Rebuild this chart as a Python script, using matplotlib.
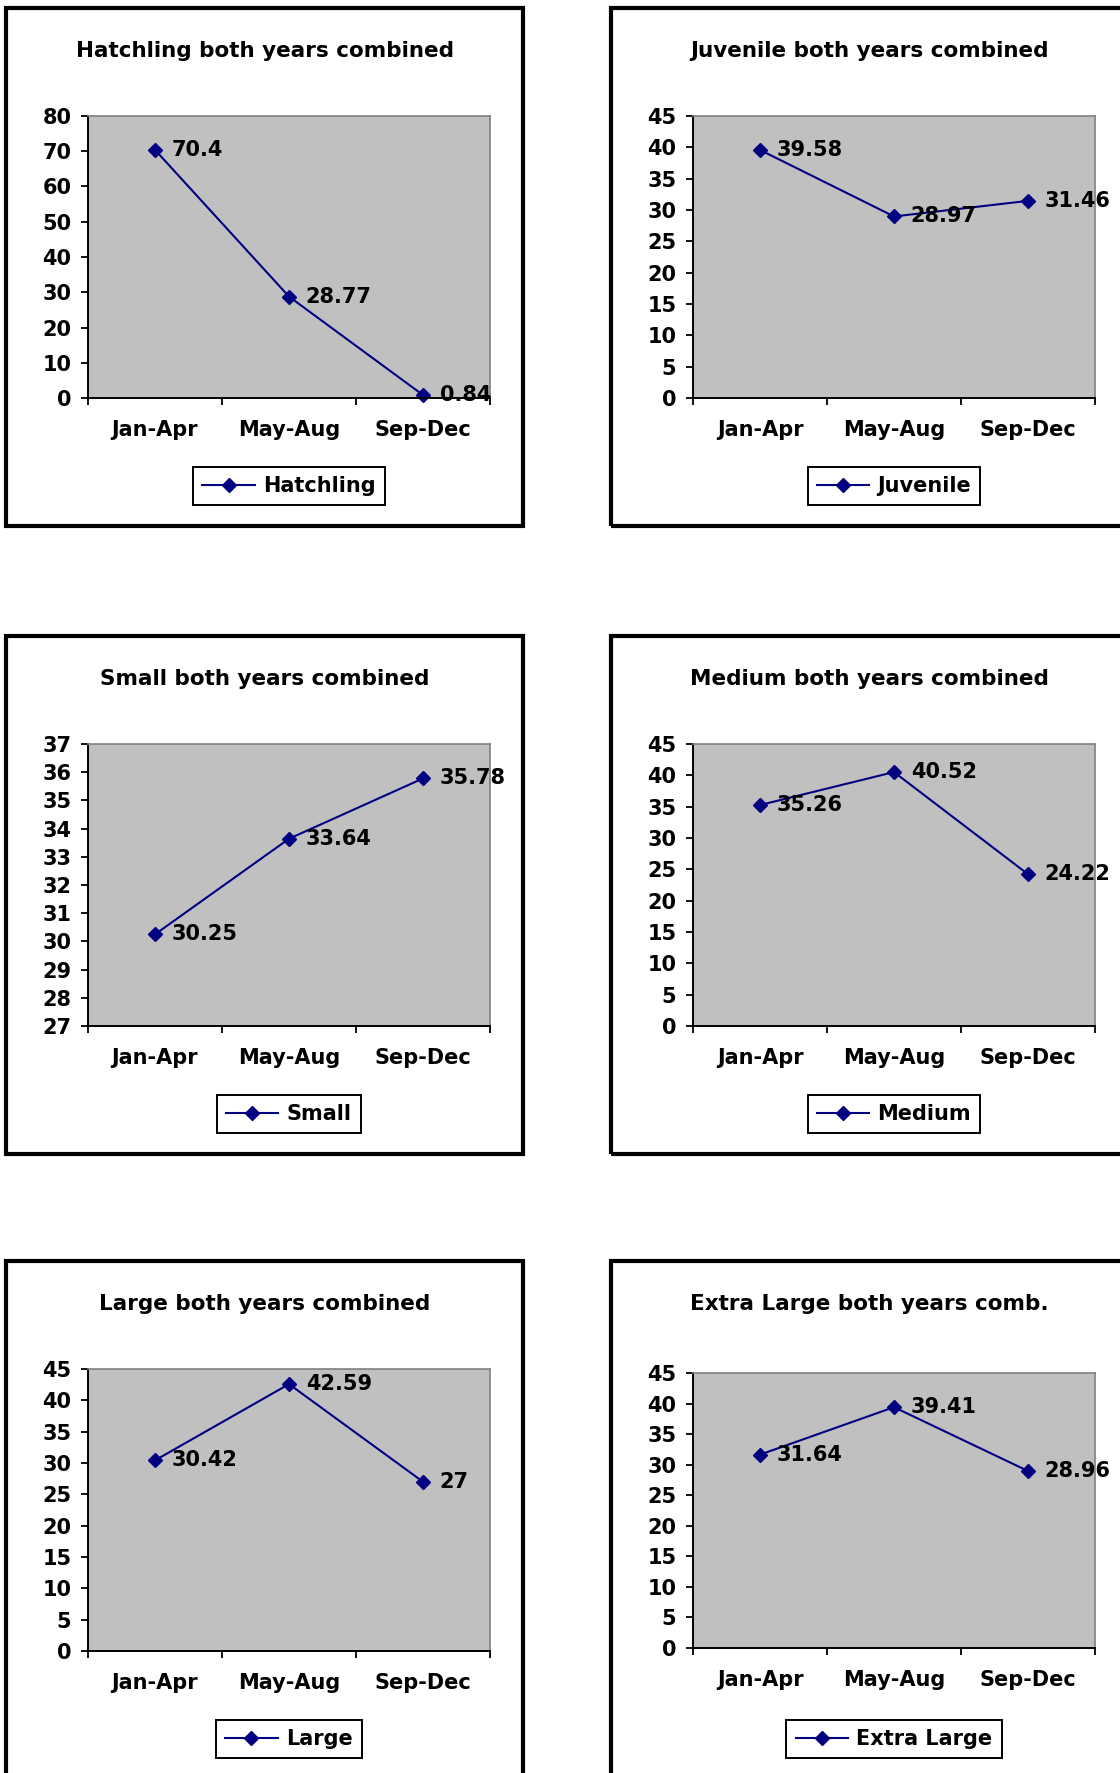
import matplotlib.pyplot as plt
from matplotlib.patches import Rectangle

categories = ["Jan-Apr", "May-Aug", "Sep-Dec"]

hatchling = [70.4, 28.77, 0.84]
juvenile = [39.58, 28.97, 31.46]
small = [30.25, 33.64, 35.78]
medium = [35.26, 40.52, 24.22]
large = [30.42, 42.59, 27]
extra_large = [31.64, 39.41, 28.96]

series_names = ["Hatchling", "Juvenile", "Small", "Medium", "Large", "Extra Large"]
titles = ["Hatchling both years combined", "Juvenile both years combined",
          "Small both years combined", "Medium both years combined",
          "Large both years combined", "Extra Large both years comb."]
y_ranges = [(0, 80, 10), (0, 45, 5), (27, 37, 1), (0, 45, 5), (0, 45, 5), (0, 45, 5)]
series_values = [hatchling, juvenile, small, medium, large, extra_large]

W, H = 1120, 1773
plt.rcParams['font.family'] = ['DejaVu Sans']
plt.rcParams['font.weight'] = 'bold'

fig = plt.figure(figsize=(W / 100, H / 100), dpi=100)
fig.patch.set_facecolor('white')

# panel top-left corners in pixels
col_x = [6, 611]
row_y = [8, 636, 1261]
panel_w, panel_h = 517, 518

navy = '#000080'
fs = 15

for i, (name, title, vals, yr) in enumerate(zip(series_names, titles, series_values, y_ranges)):
    px = col_x[i % 2]
    py = row_y[i // 2]

    # outer black frame
    fig.patches.append(Rectangle((px / W, 1 - (py + panel_h) / H), panel_w / W, panel_h / H,
                                 transform=fig.transFigure, fill=False, edgecolor='black',
                                 linewidth=3.0, clip_on=False))

    fig.text((px + panel_w / 2) / W, 1 - (py + 43) / H, title, ha='center', va='center',
             fontsize=15.5, fontweight='bold')

    ax_l = px + 82
    ax_t = py + 108
    ax_w, ax_h = 402, 282
    if i == 5:
        ax_t, ax_h = py + 112, 275
    ax = fig.add_axes([ax_l / W, 1 - (ax_t + ax_h) / H, ax_w / W, ax_h / H])
    ax.set_facecolor('#C0C0C0')

    x = list(range(len(categories)))
    ax.plot(x, vals, color=navy, linewidth=1.5, marker='D', markersize=7.5,
            markerfacecolor=navy, markeredgecolor=navy, label=name, clip_on=False)
    for xi, v in zip(x, vals):
        ax.annotate(f"{v:g}", (xi, v), xytext=(12, 0), textcoords='offset points',
                    ha='left', va='center', fontsize=fs, fontweight='bold',
                    annotation_clip=False)

    ymin, ymax, step = yr
    ax.set_ylim(ymin, ymax)
    ax.set_yticks(list(range(ymin, ymax + 1, step)))
    ax.set_xlim(-0.5, 2.5)
    ax.set_xticks([-0.5, 0.5, 1.5, 2.5])
    ax.set_xticklabels([])
    ax.set_xticks(x, minor=True)
    ax.set_xticklabels(categories, minor=True)
    ax.tick_params(axis='x', which='major', direction='out', length=5, width=1.3)
    ax.tick_params(axis='x', which='minor', length=0, pad=16, labelsize=fs)
    ax.tick_params(axis='y', direction='out', length=5, width=1.3, pad=7, labelsize=fs)

    for s in ['top', 'right']:
        ax.spines[s].set_color('#808080')
        ax.spines[s].set_linewidth(1.2)
    for s in ['left', 'bottom']:
        ax.spines[s].set_color('black')
        ax.spines[s].set_linewidth(1.4)

    leg_y = py + 478
    leg = ax.legend(loc='center', bbox_to_anchor=(0.5, -(leg_y - ax_t - ax_h) / ax_h),
                    bbox_transform=ax.transAxes,
                    fancybox=False, edgecolor='black', framealpha=1, fontsize=fs,
                    handlelength=2.5, borderpad=0.45, handletextpad=0.4, borderaxespad=0)
    leg.get_frame().set_linewidth(1.4)
    for t in leg.get_texts():
        t.set_fontweight('bold')

fig.savefig("out.png", dpi=100)
